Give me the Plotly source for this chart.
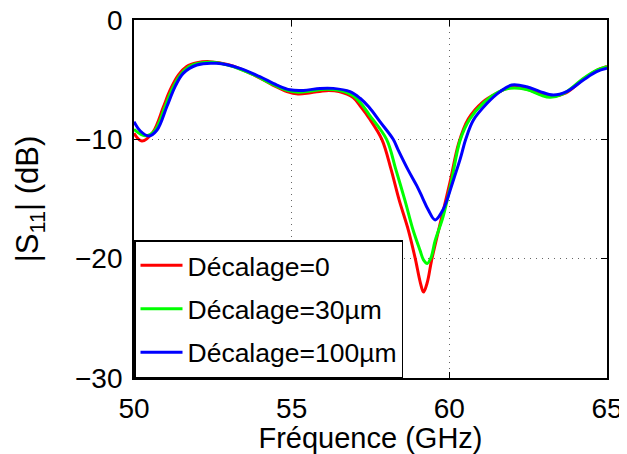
import plotly.graph_objects as go

# Décalage = 0 (red)
freq_0 = [50.0, 50.25, 50.6, 50.93, 51.14, 51.41, 51.67, 52.0, 52.4, 53.0, 53.8, 54.4, 54.85, 55.2,
          55.6, 56.1, 56.5, 56.95, 57.2, 57.45, 57.86, 58.15, 58.41, 58.7, 58.92, 59.08, 59.18, 59.3,
          59.44, 59.76, 60.02, 60.3, 60.6, 61.05, 61.5, 61.95, 62.45, 62.9, 63.25, 63.7, 64.25, 64.65, 65.0]
s11_0 = [-9.5, -10.15, -9.4, -7.3, -5.9, -4.6, -3.9, -3.58, -3.49, -3.75, -4.6, -5.45, -6.0, -6.2,
         -6.1, -5.92, -6.0, -6.5, -7.3, -8.2, -10.0, -12.5, -15.1, -17.6, -20.0, -22.0, -22.8, -22.0,
         -20.1, -16.5, -13.6, -10.3, -8.3, -6.9, -6.15, -5.65, -5.78, -6.22, -6.4, -6.1, -4.95, -4.25, -3.9]

# Décalage = 30 µm (green)
freq_30 = [50.0, 50.35, 50.65, 50.98, 51.2, 51.47, 51.75, 52.1, 52.5, 53.0, 53.8, 54.4, 54.85, 55.2,
           55.6, 56.1, 56.5, 56.95, 57.2, 57.45, 58.01, 58.3, 58.59, 58.85, 59.07, 59.18, 59.3, 59.42,
           59.55, 59.8, 60.06, 60.34, 60.65, 61.1, 61.55, 61.9, 62.45, 62.9, 63.2, 63.6, 64.25, 64.65, 65.0]
s11_30 = [-9.16, -9.7, -9.3, -7.3, -5.85, -4.6, -3.9, -3.6, -3.55, -3.8, -4.6, -5.4, -5.9, -6.05,
          -5.95, -5.8, -5.9, -6.35, -7.0, -7.9, -10.0, -12.5, -15.1, -17.6, -19.3, -20.1, -20.4, -19.9,
          -18.5, -16.5, -13.6, -10.1, -8.3, -6.9, -6.05, -5.72, -5.82, -6.3, -6.48, -6.2, -4.9, -4.25, -3.92]

# Décalage = 100 µm (blue)
freq_100 = [50.0, 50.2, 50.47, 50.73, 51.04, 51.3, 51.56, 51.99, 52.62, 53.36, 53.99, 54.53, 54.95,
            55.37, 55.9, 56.32, 56.85, 57.17, 57.45, 57.8, 58.22, 58.38, 58.7, 58.97, 59.15, 59.33,
            59.55, 59.8, 60.13, 60.35, 60.52, 60.76, 61.19, 61.61, 61.98, 62.45, 62.88, 63.3, 63.72,
            64.25, 64.67, 65.0]
s11_100 = [-8.52, -9.3, -9.72, -9.22, -7.27, -5.6, -4.47, -3.77, -3.63, -4.05, -4.75, -5.45, -5.85,
           -5.9, -5.73, -5.73, -6.0, -6.56, -7.3, -8.52, -10.0, -10.9, -12.6, -13.9, -14.9, -15.9,
           -16.75, -15.9, -13.4, -11.6, -10.0, -8.4, -7.0, -6.0, -5.45, -5.59, -6.0, -6.29, -6.0,
           -5.03, -4.33, -4.05]

series = [
    ("Décalage=0", freq_0, s11_0, "#ff0000"),
    ("Décalage=30µm", freq_30, s11_30, "#00ff00"),
    ("Décalage=100µm", freq_100, s11_100, "#0000ff"),
]

fig = go.Figure()
for i, (name, f, s, col) in enumerate(series):
    fig.add_trace(go.Scatter(x=f, y=s, mode="lines", name=name, legendgroup=str(i),
                             line=dict(color=col, width=3, shape="spline", smoothing=1.0)))

axis_style = dict(showline=True, linecolor="black", linewidth=1.8, mirror="ticks", ticks="inside",
                  ticklen=6, tickcolor="black", showgrid=True, gridcolor="#666666", griddash="1px,5px",
                  gridwidth=1, zeroline=False, automargin=False, ticklabeloverflow="allow",
                  tickfont=dict(size=28, color="black"))

fig.update_xaxes(range=[50, 65], tickvals=[50, 55, 60, 65], ticklabelstandoff=4,
                 title=dict(text="Fréquence (GHz)", font=dict(size=29, color="black"), standoff=2),
                 **axis_style)
fig.update_yaxes(range=[-30, 0], tickvals=[-30, -20, -10, 0], ticklabelstandoff=4,
                 title=dict(text="|S<sub>11</sub>| (dB)", font=dict(size=31, color="black"), standoff=27),
                 **axis_style)

# page body keeps an 8px margin, so the figure is sized to fit the rest of the window
fig.update_layout(width=619, height=446, template="plotly_white",
                  font=dict(family="Liberation Sans, Arial, sans-serif", color="black"),
                  margin=dict(l=126, r=20, t=12, b=76), plot_bgcolor="white", paper_bgcolor="white",
                  legend=dict(x=0, y=0, xanchor="left", yanchor="bottom", bgcolor="white",
                              bordercolor="black", borderwidth=1.5, font=dict(size=26.5, color="black"),
                              tracegroupgap=6, itemwidth=42))

fig.write_html("out.html")
